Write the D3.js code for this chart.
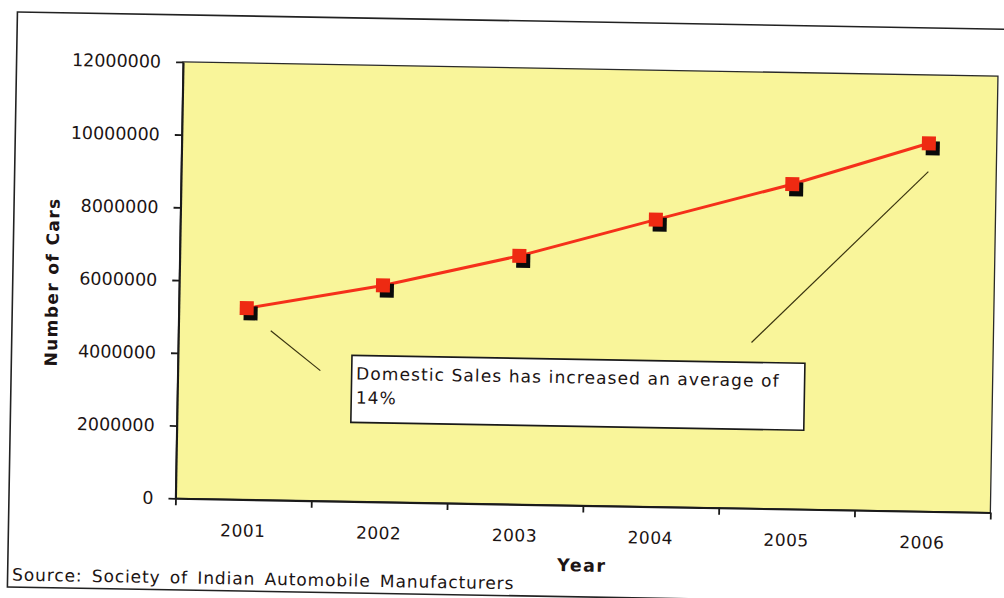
<!DOCTYPE html>
<html>
<head>
<meta charset="utf-8">
<script src="https://cdn.jsdelivr.net/npm/d3@7"></script>
<style>
  body { margin: 0; background: #fff; }
  text { font-family: "DejaVu Sans", Verdana, sans-serif; fill: #1c1414; }
</style>
</head>
<body>
<script>
// chart data
var years = ["2001", "2002", "2003", "2004", "2005", "2006"];
var sales = [5260000, 5950000, 6830000, 7890000, 8930000, 10120000];
var yTicks = [0, 2000000, 4000000, 6000000, 8000000, 10000000, 12000000];
var noteLines = ["Domestic Sales has increased an average of", "14%"];
// callout leader lines, [category index, value] pairs
var callouts = [
  [[0.18, 4650000], [0.55, 3580000]],
  [[5.0, 9340000], [3.72, 4560000]]
];

var W = 1004, H = 598;
var margin = {top: 67.5, right: 10, bottom: 94, left: 179};
var width = 994 - margin.left,
    height = 504 - margin.top;

var svg = d3.select("body")
            .append("svg")
              .attr("width", W)
              .attr("height", H);

svg.append("rect").attr("width", W).attr("height", H).attr("fill", "#fff");

// the scan is tilted by about one degree
var page = svg.append("g")
              .attr("transform", "rotate(1," + W / 2 + "," + H / 2 + ")");

page.append("rect")
    .attr("x", 12.5).attr("y", 20.5)
    .attr("width", 1010).attr("height", 575)
    .attr("fill", "none")
    .attr("stroke", "#222")
    .attr("stroke-width", 1.6);

var g = page.append("g")
            .attr("transform", "translate(" + margin.left + "," + margin.top + ")");

var x = d3.scaleBand().domain(years).range([0, width]);
var xi = d3.scaleLinear().domain([-0.5, years.length - 0.5]).range([0, width]);
var y = d3.scaleLinear().domain([0, 12000000]).range([height, 0]);

// plot area
g.append("rect")
  .attr("width", width)
  .attr("height", height)
  .attr("fill", "#f9f59a")
  .attr("stroke", "#2a2a2a")
  .attr("stroke-width", 1.3);

// y axis
var yAxis = g.append("g")
  .call(d3.axisLeft(y).tickValues(yTicks).tickFormat(d3.format("d"))
          .tickSize(7).tickSizeOuter(0).tickPadding(15));
yAxis.selectAll("text").style("font-size", "17.5px");

// x axis: ticks sit on category boundaries, labels in the middle
var xTickAxis = g.append("g")
  .attr("transform", "translate(0," + height + ")")
  .call(d3.axisBottom(xi).tickValues(d3.range(-0.5, years.length, 1))
          .tickFormat("").tickSize(7).tickSizeOuter(0));

var xLabelAxis = g.append("g")
  .attr("transform", "translate(0," + height + ")")
  .call(d3.axisBottom(x).tickSize(0).tickPadding(25));
xLabelAxis.select(".domain").remove();
xLabelAxis.selectAll("text").style("font-size", "17px").style("letter-spacing", "0.5px");

g.selectAll(".domain").attr("stroke", "#1a1a1a").attr("stroke-width", 2);
g.selectAll(".tick line").attr("stroke", "#1a1a1a").attr("stroke-width", 1.8);
g.selectAll(".tick text").attr("fill", "#1c1414");

// axis titles
g.append("text")
  .attr("transform", "translate(" + (58 - margin.left) + "," + (height / 2 + 4) + ") rotate(-90)")
  .attr("text-anchor", "middle")
  .style("font-size", "17px")
  .style("font-weight", "bold")
  .style("letter-spacing", "1.4px")
  .text("Number of Cars");

g.append("text")
  .attr("x", width / 2)
  .attr("y", height + 66)
  .attr("text-anchor", "middle")
  .style("font-size", "17.5px")
  .style("font-weight", "bold")
  .style("letter-spacing", "1.5px")
  .text("Year");

page.append("text")
  .attr("x", 17)
  .attr("y", 589)
  .style("font-size", "17px")
  .style("letter-spacing", "0.9px")
  .style("word-spacing", "3px")
  .text("Source: Society of Indian Automobile Manufacturers");

// callout leader lines
g.selectAll(".callout")
  .data(callouts)
  .enter()
  .append("line")
    .attr("class", "callout")
    .attr("x1", function(d) { return xi(d[0][0]); })
    .attr("y1", function(d) { return y(d[0][1]); })
    .attr("x2", function(d) { return xi(d[1][0]); })
    .attr("y2", function(d) { return y(d[1][1]); })
    .attr("stroke", "#3a3410")
    .attr("stroke-width", 1.2);

// series line
var line = d3.line()
  .x(function(d, i) { return x(years[i]) + x.bandwidth() / 2; })
  .y(function(d) { return y(d); });

g.append("path")
  .datum(sales)
  .attr("d", line)
  .attr("fill", "none")
  .attr("stroke", "#f5301a")
  .attr("stroke-width", 3);

// markers with their black drop shadow
var ms = 14;
g.selectAll(".shadow")
  .data(sales)
  .enter()
  .append("rect")
    .attr("class", "shadow")
    .attr("x", function(d, i) { return x(years[i]) + x.bandwidth() / 2 - ms / 2 + 4; })
    .attr("y", function(d) { return y(d) - ms / 2 + 5; })
    .attr("width", ms)
    .attr("height", ms)
    .attr("fill", "#0a0a0a");

g.selectAll(".marker")
  .data(sales)
  .enter()
  .append("rect")
    .attr("class", "marker")
    .attr("x", function(d, i) { return x(years[i]) + x.bandwidth() / 2 - ms / 2; })
    .attr("y", function(d) { return y(d) - ms / 2; })
    .attr("width", ms)
    .attr("height", ms)
    .attr("fill", "#ee2a12");

// annotation box
var note = page.append("g").attr("transform", "translate(353,358)");
note.append("rect")
  .attr("width", 453)
  .attr("height", 67)
  .attr("fill", "#fff")
  .attr("stroke", "#1a1a1a")
  .attr("stroke-width", 1.6);
note.selectAll("text")
  .data(noteLines)
  .enter()
  .append("text")
    .attr("x", 4.5)
    .attr("y", function(d, i) { return 24 + i * 24; })
    .style("font-size", "17px")
    .style("letter-spacing", "1.1px")
    .text(function(d) { return d; });
</script>
</body>
</html>
